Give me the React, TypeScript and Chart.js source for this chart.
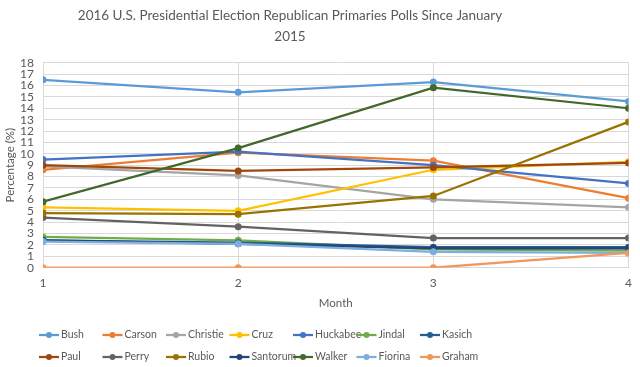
import React, { useEffect, useRef } from "react";
import { Chart, registerables } from "chart.js";

Chart.register(...registerables);

const months = [1, 2, 3, 4];
const candidates = [
  "Bush", "Carson", "Christie", "Cruz", "Huckabee", "Jindal", "Kasich",
  "Paul", "Perry", "Rubio", "Santorum", "Walker", "Fiorina", "Graham",
];
const colors = [
  "#5B9BD5", "#ED7D31", "#A5A5A5", "#FFC000", "#4472C4", "#70AD47", "#255E91",
  "#9E480E", "#636363", "#997300", "#264478", "#43682B", "#7CAFDD", "#F1975A",
];
const bush = [16.5, 15.4, 16.3, 14.6];
const carson = [8.6, 10.1, 9.4, 6.1];
const christie = [8.9, 8.1, 6.0, 5.3];
const cruz = [5.3, 5.0, 8.6, 9.3];
const huckabee = [9.5, 10.2, 9.0, 7.4];
const jindal = [2.7, 2.4, 1.6, 1.5];
const kasich = [2.4, 2.2, 1.8, 1.8];
const paul = [9.0, 8.5, 8.8, 9.2];
const perry = [4.4, 3.6, 2.6, 2.6];
const rubio = [4.8, 4.7, 6.3, 12.8];
const santorum = [2.4, 2.1, 1.7, 1.7];
const walker = [5.8, 10.5, 15.8, 14.0];
const fiorina = [2.3, 2.1, 1.4, 1.3];
const graham = [0, 0, 0, 1.3];
const series = [bush, carson, christie, cruz, huckabee, jindal, kasich, paul, perry, rubio, santorum, walker, fiorina, graham];
const titleLines = ["2016 U.S. Presidential Election Republican Primaries Polls Since January", "2015"];
const yTitle = "Percentage (%)";
const xTitle = "Month";

const FONT = "Lato, 'Noto Sans', sans-serif";
const TEXT = "#595959";

const textPlugin = {
  id: "texts",
  afterDraw(chart: any) {
    const ctx = chart.ctx;
    const area = chart.chartArea;
    ctx.save();
    ctx.fillStyle = TEXT;
    ctx.textBaseline = "middle";
    ctx.textAlign = "center";
    let size = 18;
    ctx.font = `${size}px ${FONT}`;
    while (ctx.measureText(titleLines[0]).width > 425 && size > 8) {
      size -= 0.25;
      ctx.font = `${size}px ${FONT}`;
    }
    ctx.fillText(titleLines[0], 290, 16);
    ctx.fillText(titleLines[1], 290, 37);
    ctx.font = `11.5px ${FONT}`;
    ctx.fillText(xTitle, (area.left + area.right) / 2, 303);
    ctx.save();
    ctx.translate(10, (area.top + area.bottom) / 2);
    ctx.rotate(-Math.PI / 2);
    ctx.fillText(yTitle, 0, 0);
    ctx.restore();
    ctx.textAlign = "left";
    ctx.font = `10.5px ${FONT}`;
    chart.data.datasets.forEach((ds: any, i: number) => {
      const col = i % 7;
      const row = Math.floor(i / 7);
      const x0 = 39 + col * 63.5;
      const y = 335 + row * 22;
      ctx.strokeStyle = ds.borderColor;
      ctx.lineWidth = 2.25;
      ctx.beginPath();
      ctx.moveTo(x0, y);
      ctx.lineTo(x0 + 20, y);
      ctx.stroke();
      ctx.fillStyle = ds.borderColor;
      ctx.beginPath();
      ctx.arc(x0 + 10, y, 3, 0, Math.PI * 2);
      ctx.fill();
      ctx.fillStyle = TEXT;
      ctx.fillText(ds.label, x0 + 22, y);
    });
    ctx.restore();
  },
};

export default function App() {
  const ref = useRef<HTMLCanvasElement>(null);
  useEffect(() => {
    document.body.style.margin = "0";
    const n = candidates.length;
    const chart = new Chart(ref.current!, {
      type: "line",
      data: {
        datasets: candidates.map((name, i) => ({
          label: name,
          data: months.map((m, j) => ({ x: m, y: series[i][j] })),
          borderColor: colors[i],
          backgroundColor: colors[i],
          borderWidth: 2.25,
          pointRadius: 3.5,
          pointBorderWidth: 0,
          tension: 0,
          order: n - i,
        })),
      },
      options: {
        responsive: false,
        animation: false,
        layout: { padding: { top: 62.7, right: 9, bottom: 60, left: 0 } },
        plugins: { legend: { display: false }, title: { display: false }, tooltip: { enabled: false } },
        scales: {
          x: {
            type: "linear",
            min: 1,
            max: 4,
            ticks: { stepSize: 1, autoSkip: false, color: TEXT, font: { family: FONT, size: 12 }, padding: 8 },
            grid: { color: "#D9D9D9", drawTicks: false },
            border: { display: false },
            afterFit: (s: any) => { s.height = 39.3; },
          },
          y: {
            min: 0,
            max: 18,
            ticks: { stepSize: 1, autoSkip: false, color: TEXT, font: { family: FONT, size: 12 }, padding: 9 },
            grid: { color: "#D9D9D9", drawTicks: false },
            border: { display: true, color: "#D9D9D9" },
            afterFit: (s: any) => { s.width = 43; },
          },
        },
      },
      plugins: [textPlugin],
    });
    return () => chart.destroy();
  }, []);
  return <canvas ref={ref} width={640} height={367} style={{ display: "block" }} />;
}
